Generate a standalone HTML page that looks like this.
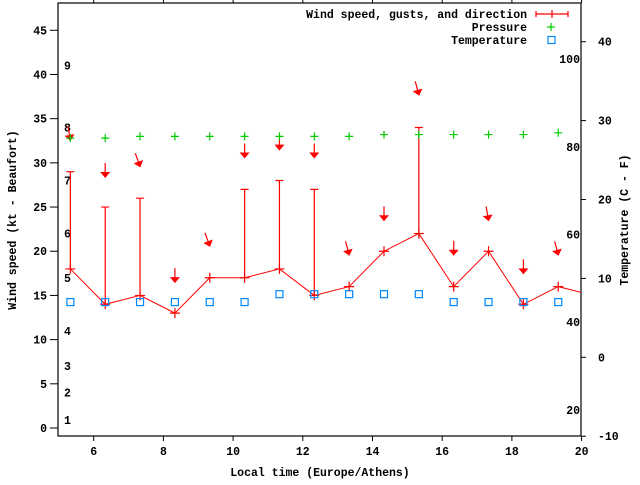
<!DOCTYPE html>
<html><head><meta charset="utf-8"><style>
body{margin:0;background:#fff}
svg text{font-family:"Liberation Mono",monospace;font-weight:bold;font-size:11.5px;fill:#000}
</style></head><body>
<svg id="chart" width="640" height="480" xmlns="http://www.w3.org/2000/svg">
<g id="axes"></g>
<g id="marks"></g>
<g id="legend"></g>
</svg>
<script>
const times=[5.33,6.33,7.33,8.33,9.33,10.33,11.33,12.33,13.33,14.33,15.33,16.33,17.33,18.33,19.33,20.33];
const windSpeed=[18,14,15,13,17,17,18,15,16,20,22,16,20,14,16,15];
const gusts=[29,25,26,null,null,27,28,27,null,null,34,null,null,null,null,null];
const arrowLevel=[32.6,28.4,29.6,16.5,20.6,30.6,31.5,30.6,19.6,23.5,37.7,19.6,23.5,17.5,19.6];
const arrowDir=[350,0,340,0,340,0,0,0,345,0,345,0,350,0,345];
const pressure=[32.8,32.8,33,33,33,33,33,33,33,33.2,33.2,33.2,33.2,33.2,33.4];
const tempC=[7,7,7,7,7,7,8,8,8,8,8,7,7,7,7];
const xTicks=[6,8,10,12,14,16,18,20];
const yTicks=[0,5,10,15,20,25,30,35,40,45];
const cTicks=[-10,0,10,20,30,40];
const fTicks=[20,40,60,80,100];
const bftLabels=["1","2","3","4","5","6","7","8","9"];
const bftLevels=[0.9,4,7,11,17,22,28,34,41];

const L=58,R=581,T=3,B=436;
const NS="http://www.w3.org/2000/svg";
const xS=t=>93.7+(t-6)*34.85;
const yS=v=>428-v*8.838;
const cS=c=>357.3-c*7.89;
function mk(p,tag,at,txt){const e=document.createElementNS(NS,tag);for(const k in at)e.setAttribute(k,at[k]);if(txt!=null)e.textContent=txt;p.appendChild(e);return e;}
const ax=document.getElementById('axes'),mg=document.getElementById('marks'),lg=document.getElementById('legend');

let fr=mk(ax,'rect',{x:L,y:T,width:R-L,height:B-T,fill:'none',stroke:'#000','stroke-width':1.2});

xTicks.forEach(t=>{const x=xS(t);
 mk(ax,'line',{x1:x,y1:B,x2:x,y2:B+5,stroke:'#000'});
 mk(ax,'line',{x1:x,y1:T,x2:x,y2:T-4,stroke:'#000'});
 let e=mk(ax,'text',{x:x,y:B+19,'text-anchor':'middle'},String(t));
 });
yTicks.forEach(v=>{const y=yS(v);
 mk(ax,'line',{x1:L-8,y1:y,x2:L,y2:y,stroke:'#000'});
 let e=mk(ax,'text',{x:L-11,y:y+4,'text-anchor':'end'},String(v));
 });
cTicks.forEach(c=>{const y=cS(c);
 mk(ax,'line',{x1:R,y1:y,x2:R+5,y2:y,stroke:'#000'});
 let e=mk(ax,'text',{x:R+17,y:y+4,'text-anchor':'start'},String(c));
 });
fTicks.forEach(f=>{const y=cS((f-32)*5/9);
 let e=mk(ax,'text',{x:R-1,y:y+4,'text-anchor':'end'},String(f));
 });
bftLabels.forEach((b,i)=>{let e=mk(ax,'text',{x:64,y:yS(bftLevels[i])+4},b);
 });
let xt=mk(ax,'text',{x:320,y:476,'text-anchor':'middle'},'Local time (Europe/Athens)');

let yt=mk(ax,'text',{x:0,y:0,'text-anchor':'middle',transform:'translate(16,220) rotate(-90)'},'Wind speed (kt - Beaufort)');

let y2=mk(ax,'text',{x:0,y:0,'text-anchor':'middle',transform:'translate(628,220) rotate(-90)'},'Temperature (C - F)');


const clip=mk(mg,'clipPath',{id:'pc'});mk(clip,'rect',{x:L,y:T,width:R-L,height:B-T});
const g=mk(mg,'g',{'clip-path':'url(#pc)'});
// gusts error bars
gusts.forEach((gv,i)=>{if(gv==null)return;const x=xS(times[i]);
 let e=mk(g,'path',{d:`M${x},${yS(windSpeed[i])}V${yS(gv)}M${x-4},${yS(gv)}H${x+4}`,stroke:'#f00','stroke-width':1.2,fill:'none'});
 });
let pts=times.map((t,i)=>xS(t)+','+yS(windSpeed[i])).join(' ');
let wl=mk(g,'polyline',{points:pts,fill:'none',stroke:'#f00','stroke-width':1});

times.forEach((t,i)=>{const x=xS(t),y=yS(windSpeed[i]);
 let e=mk(g,'path',{d:`M${x-5},${y}H${x+5}M${x},${y-5}V${y+5}`,stroke:'#f00','stroke-width':1.2});
 });
arrowLevel.forEach((a,i)=>{const x=xS(times[i]),y=yS(a),r=arrowDir[i]*Math.PI/180;
 const sx=x+14*Math.sin(r),sy=y-14*Math.cos(r);
 let e=mk(g,'g',{});
 
 mk(e,'line',{x1:sx,y1:sy,x2:x,y2:y,stroke:'#f00','stroke-width':1.2});
 mk(e,'polygon',{points:`${x-5},${y-5} ${x+5},${y-5} ${x},${y+1}`,fill:'#f00',transform:`rotate(${arrowDir[i]} ${x} ${y})`});});
pressure.forEach((p,i)=>{const x=xS(times[i]),y=yS(p);
 let e=mk(g,'path',{d:`M${x-4},${y}H${x+4}M${x},${y-4}V${y+4}`,stroke:'#0c0','stroke-width':1.2});
 });
tempC.forEach((c,i)=>{const x=xS(times[i]),y=cS(c);
 let e=mk(g,'rect',{x:x-3.5,y:y-3.5,width:7,height:7,fill:'none',stroke:'#08f','stroke-width':1.2});
 });

// legend
const lt=[['Wind speed, gusts, and direction',14],['Pressure',27],['Temperature',40]];
lt.forEach(([s,y])=>{let e=mk(lg,'text',{x:527,y:y+4,'text-anchor':'end'},s);
 });
let l1=mk(lg,'path',{d:'M536,14H568M536,11V17M568,11V17M552,10V18',stroke:'#f00','stroke-width':1.2});

let l2=mk(lg,'path',{d:'M547,27H555M551,23V31',stroke:'#0c0','stroke-width':1.2});

let l3=mk(lg,'rect',{x:548,y:36.5,width:7,height:7,fill:'none',stroke:'#08f','stroke-width':1.2});

</script>
</body></html>
